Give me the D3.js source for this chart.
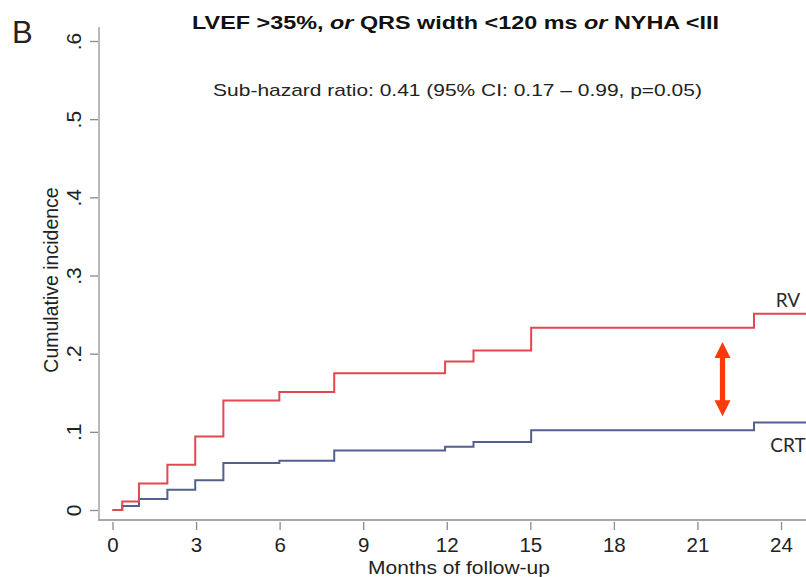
<!DOCTYPE html>
<html>
<head>
<meta charset="utf-8">
<script src="https://cdn.jsdelivr.net/npm/d3@7"></script>
<style>
  html, body { margin: 0; padding: 0; background: #fff; }
  svg { display: block; }
</style>
</head>
<body>
<svg id="chart" width="806" height="577"></svg>
<script>
// ---- data ----
const eventMonths = [0, 0.35, 0.95, 1.97, 2.97, 3.98, 5.99, 7.96, 11.94, 12.96, 15.03, 23.03, 25];
const rvIncidence  = [0, 0.011, 0.034, 0.058, 0.094, 0.140, 0.151, 0.175, 0.190, 0.204, 0.233, 0.251, 0.251];
const crtIncidence = [0, 0.005, 0.014, 0.026, 0.038, 0.060, 0.063, 0.076, 0.081, 0.087, 0.102, 0.112, 0.112];
const xTicks = [0, 3, 6, 9, 12, 15, 18, 21, 24];
const yTicks = [0, 0.1, 0.2, 0.3, 0.4, 0.5, 0.6];
const seriesNames = ["RV", "CRT"];
const seriesLabelPos = [[24.25, 0.269], [24.25, 0.083]]; // month, incidence
const arrowMonth = 21.9;
const arrowRange = [0.120, 0.215];
const titleParts = [["LVEF >35%, ", "normal"], ["or", "italic"], [" QRS width <120 ms ", "normal"], ["or", "italic"], [" NYHA <III", "normal"]];
const subtitle = "Sub-hazard ratio: 0.41 (95% CI: 0.17 \u2013 0.99, p=0.05)";
const panelLetter = "B";
const xTitle = "Months of follow-up";
const yTitle = "Cumulative incidence";

// ---- layout ----
const W = 806, H = 577;
const svg = d3.select("#chart");
const x = d3.scaleLinear().domain([0, 24]).range([112.5, 781]);
const y = d3.scaleLinear().domain([0, 0.6]).range([510, 41]);
const axisX0 = 99;   // plot region left edge
const axisY0 = 520;  // plot region bottom edge
const plotTop = 27;

const axisColor = "#a8a8a8";
const tickColor = "#8a8a8a";
const textColor = "#222";
const redColor = "#e2484f";
const blueColor = "#52618f";
const sans = "'Liberation Sans', Arial, sans-serif";
const narrow = "'Liberation Sans Narrow', 'Arial Narrow', 'Liberation Sans', Arial, sans-serif";

// helper: stretch a text horizontally to a measured width, centred at cx
function fitWidth(sel, cx, baseY, targetW) {
  const w = sel.node().getComputedTextLength();
  sel.attr("x", 0).attr("y", 0).attr("text-anchor", "middle")
     .attr("transform", `translate(${cx},${baseY}) scale(${targetW / w},1)`);
}

// plot region lines
svg.append("line").attr("x1", axisX0).attr("x2", axisX0).attr("y1", plotTop).attr("y2", axisY0 + 1)
  .attr("stroke", axisColor).attr("stroke-width", 1.6);
svg.append("line").attr("x1", axisX0 - 1).attr("x2", W).attr("y1", axisY0).attr("y2", axisY0)
  .attr("stroke", axisColor).attr("stroke-width", 2.2);

// x axis
const gx = svg.append("g").attr("transform", `translate(0,${axisY0 + 2})`)
  .call(d3.axisBottom(x).tickValues(xTicks).tickSize(8).tickPadding(7).tickFormat(d3.format("d")));
gx.select(".domain").remove();
gx.selectAll(".tick line").attr("stroke", tickColor).attr("stroke-width", 1.3);
gx.selectAll(".tick text").attr("fill", textColor)
  .style("font-family", narrow)
  .style("font-size", "20.5px");

// y axis
const yFmt = d => d === 0 ? "0" : d3.format(".1f")(d).replace(/^0/, "");
const gy = svg.append("g").attr("transform", `translate(${axisX0 - 1},0)`)
  .call(d3.axisLeft(y).tickValues(yTicks).tickSize(8).tickFormat(yFmt));
gy.select(".domain").remove();
gy.selectAll(".tick line").attr("stroke", tickColor).attr("stroke-width", 1.3);
gy.selectAll(".tick text").attr("fill", textColor)
  .attr("x", null).attr("dy", null)
  .attr("text-anchor", "middle")
  .attr("transform", "translate(-17,0) rotate(-90)")
  .style("font-family", narrow)
  .style("font-size", "21px");

// series
const line = d3.line().curve(d3.curveStepAfter).x(d => x(d[0])).y(d => y(d[1]));
const rvData = eventMonths.map((m, i) => [m, rvIncidence[i]]);
const crtData = eventMonths.map((m, i) => [m, crtIncidence[i]]);
svg.append("path").datum(crtData).attr("d", line).attr("fill", "none")
  .attr("stroke", blueColor).attr("stroke-width", 2);
svg.append("path").datum(rvData).attr("d", line).attr("fill", "none")
  .attr("stroke", redColor).attr("stroke-width", 2);

// series labels
svg.selectAll("text.series").data(seriesNames).enter().append("text")
  .attr("class", "series")
  .attr("x", (d, i) => x(seriesLabelPos[i][0]))
  .attr("y", (d, i) => y(seriesLabelPos[i][1]))
  .attr("dy", "0.36em")
  .attr("text-anchor", "middle")
  .attr("fill", "#2a2a2a")
  .style("font-family", "Lato, 'Open Sans', sans-serif")
  .style("font-size", "19px")
  .text(d => d);

// double arrow
const ax = x(arrowMonth), aTop = y(arrowRange[1]), aBot = y(arrowRange[0]);
const headW = 8, headH = 16, shaftW = 2.6;
const arrowPath = [
  [ax, aTop], [ax + headW, aTop + headH], [ax + shaftW, aTop + headH],
  [ax + shaftW, aBot - headH], [ax + headW, aBot - headH], [ax, aBot],
  [ax - headW, aBot - headH], [ax - shaftW, aBot - headH],
  [ax - shaftW, aTop + headH], [ax - headW, aTop + headH]
];
svg.append("path").attr("d", "M" + arrowPath.map(p => p.join(",")).join("L") + "Z")
  .attr("fill", "#ff3a0a");

// titles
const title = svg.append("text")
  .attr("fill", "#111")
  .style("font-family", sans)
  .style("font-size", "18.5px").style("font-weight", "bold");
title.selectAll("tspan").data(titleParts).enter().append("tspan")
  .style("font-style", d => d[1]).text(d => d[0]);
fitWidth(title, 455.5, 29, 527);

const sub = svg.append("text")
  .attr("fill", "#222")
  .style("font-family", sans)
  .style("font-size", "16px").text(subtitle);
fitWidth(sub, 457.5, 96, 489);

svg.append("text").attr("x", 12).attr("y", 43)
  .attr("fill", "#222")
  .style("font-family", sans)
  .style("font-size", "31px").text(panelLetter);

const xt = svg.append("text")
  .attr("fill", "#222")
  .style("font-family", sans)
  .style("font-size", "19px").text(xTitle);
fitWidth(xt, 459, 574, 182);

svg.append("text").attr("transform", `translate(58,280) rotate(-90)`).attr("text-anchor", "middle")
  .attr("fill", "#222")
  .style("font-family", sans)
  .style("font-size", "19.5px").text(yTitle);
</script>
</body>
</html>
